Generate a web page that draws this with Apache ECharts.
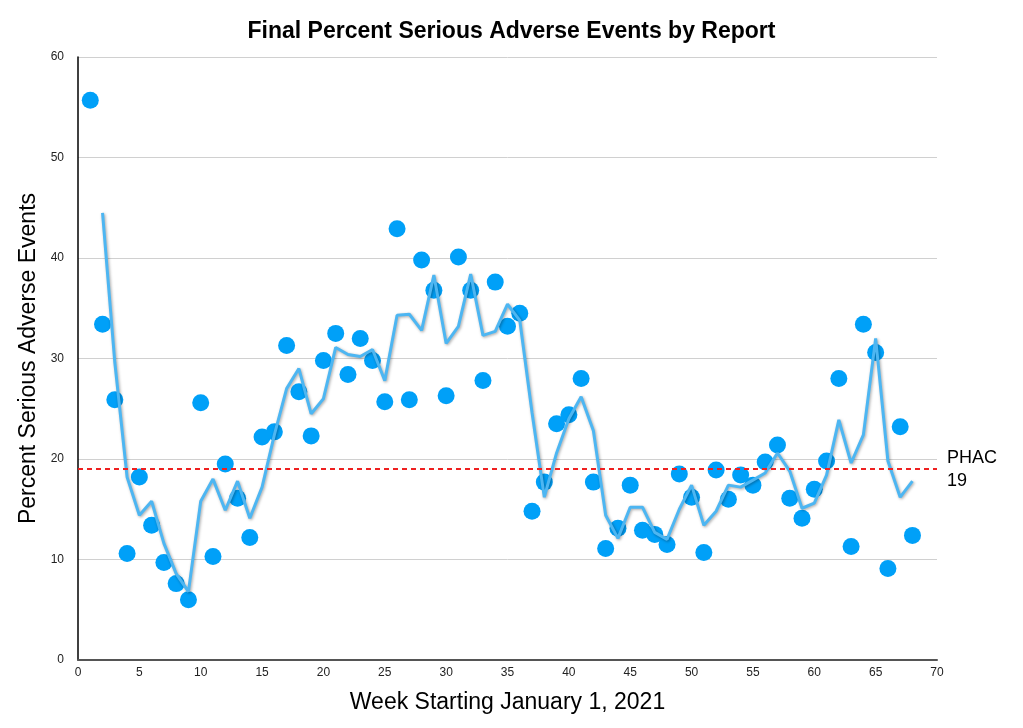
<!DOCTYPE html>
<html>
<head>
<meta charset="utf-8">
<script src="https://cdn.jsdelivr.net/npm/echarts@6/dist/echarts.min.js"></script>
<style>html,body{margin:0;padding:0;background:#fff;}#c{width:1023px;height:728px;}</style>
</head>
<body>
<div id="c"></div>
<script>
var weeks = [];
for (var i = 1; i <= 68; i++) weeks.push(i);
var percentSerious = [55.7,33.4,25.9,10.6,18.2,13.4,9.7,7.6,6.0,25.6,10.3,19.5,16.1,12.2,22.2,22.7,31.3,26.7,22.3,29.8,32.5,28.4,32.0,29.8,25.7,42.9,25.9,39.8,36.8,26.3,40.1,36.8,27.8,37.6,33.2,34.5,14.8,17.7,23.5,24.4,28.0,17.7,11.1,13.1,17.4,12.9,12.5,11.5,18.5,16.2,10.7,18.9,16.0,18.4,17.4,19.7,21.4,16.1,14.1,17.0,19.8,28.0,11.3,33.4,30.6,9.1,23.2,12.4];
var trendWeeks = weeks.slice(1);
var trendValues = [44.5,29.6,18.2,14.4,15.8,11.6,8.6,6.8,15.8,18.0,14.9,17.8,14.1,17.2,22.4,27.0,29.0,24.5,26.0,31.1,30.4,30.2,30.9,27.8,34.3,34.4,32.8,38.3,31.5,33.2,38.4,32.3,32.7,35.4,33.8,24.6,16.2,20.6,24.0,26.2,22.8,14.4,12.1,15.2,15.2,12.7,12.0,15.0,17.4,13.4,14.8,17.4,17.2,17.9,18.6,20.6,18.8,15.1,15.6,18.4,23.9,19.6,22.4,32.0,19.8,16.2,17.8];
var phacValue = 19;
var xTicks = [0,5,10,15,20,25,30,35,40,45,50,55,60,65,70];
var yTicks = [0,10,20,30,40,50,60];

var font = 'Helvetica, Arial, "Liberation Sans", sans-serif';
var chart = echarts.init(document.getElementById('c'));
chart.setOption({
  animation: false,
  title: {
    text: 'Final Percent Serious Adverse Events by Report',
    left: 'center', top: 15,
    textStyle: {fontFamily: font, fontSize: 23, fontWeight: 'bold', color: '#000'}
  },
  grid: {left: 78, right: 86, top: 57, bottom: 68},
  xAxis: {
    type: 'value', min: xTicks[0], max: xTicks[xTicks.length-1], interval: 5,
    name: 'Week Starting January 1, 2021', nameLocation: 'middle', nameGap: 31,
    nameTextStyle: {fontFamily: font, fontSize: 23, color: '#000'},
    axisLine: {lineStyle: {color: '#555', width: 2}},
    axisTick: {show: false},
    axisLabel: {fontFamily: font, fontSize: 12, color: '#222', margin: 7},
    splitLine: {show: false}
  },
  yAxis: {
    type: 'value', min: yTicks[0], max: yTicks[yTicks.length-1], interval: 10,
    name: 'Percent Serious Adverse Events', nameLocation: 'middle', nameGap: 37,
    nameTextStyle: {fontFamily: font, fontSize: 23, color: '#000'},
    axisLine: {show: true, lineStyle: {color: '#000', width: 1.5}},
    axisTick: {show: false},
    axisLabel: {fontFamily: font, fontSize: 12, color: '#222', margin: 14},
    splitLine: {lineStyle: {color: '#d0d0d0', width: 1}}
  },
  series: [
    {
      type: 'scatter',
      data: weeks.map(function(w, i){ return [w, percentSerious[i]]; }),
      symbolSize: 17,
      itemStyle: {color: '#00a0f8', opacity: 1},
      z: 3,
      markLine: {
        silent: true, symbol: 'none',
        lineStyle: {color: '#ee2020', type: [5, 4], width: 2},
        label: {show: true, position: 'end', formatter: 'PHAC\n19', fontFamily: font, fontSize: 18, color: '#000', distance: 10, align: 'left', lineHeight: 23},
        data: [{yAxis: phacValue}]
      }
    },
    {
      type: 'line',
      data: trendWeeks.map(function(w, i){ return [w, trendValues[i]]; }),
      symbol: 'none',
      lineStyle: {color: '#4db6f2', width: 3, shadowColor: 'rgba(0,0,0,0.35)', shadowBlur: 3, shadowOffsetX: 1, shadowOffsetY: 1},
      z: 4
    }
  ]
});
</script>
</body>
</html>
